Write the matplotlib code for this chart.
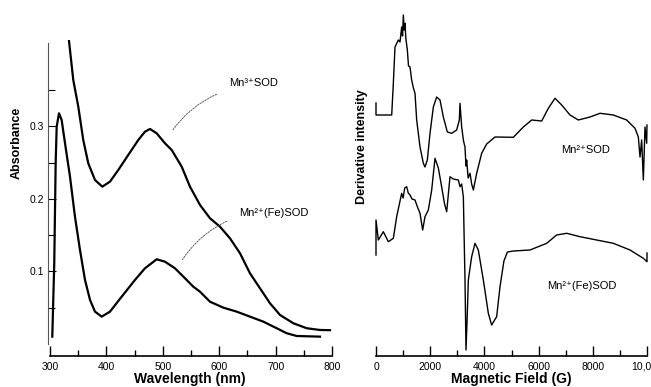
import matplotlib
matplotlib.use("Agg")
import matplotlib.pyplot as plt
from matplotlib.ticker import MultipleLocator, FixedLocator

plt.rcParams['font.family'] = ['Liberation Sans', 'DejaVu Sans']

# ---------------- data: UV-vis ----------------
wl_mn3 = [333.7, 341.3, 350.2, 359.0, 367.9, 379.8, 392.7, 406.4, 421.1, 438.8, 456.6, 468.4,
          477.3, 489.2, 503.9, 515.8, 533.5, 548.2, 566.0, 583.7, 601.4, 619.1, 636.9, 654.6,
          672.3, 690.1, 707.8, 731.4, 755.1, 778.7, 796.5]
abs_mn3 = [0.4183, 0.3641, 0.3273, 0.2814, 0.2492, 0.2262, 0.2170, 0.2239, 0.2400, 0.2607,
           0.2814, 0.2928, 0.2966, 0.2906, 0.2768, 0.2676, 0.2446, 0.2170, 0.1917, 0.1734,
           0.1618, 0.1458, 0.1251, 0.0975, 0.0768, 0.0561, 0.0400, 0.0286, 0.0217, 0.0193, 0.019]
wl_mn2fe = [304.1, 307.6, 310.1, 311.9, 316.0, 320.7, 326.6, 335.5, 344.3, 353.2, 362.1, 371.0,
            379.8, 391.7, 406.4, 427.1, 450.7, 468.4, 489.2, 503.9, 521.6, 539.4, 554.1, 566.0,
            583.7, 607.3, 631.0, 654.6, 678.2, 701.9, 719.7, 737.4, 778.7]
abs_mn2fe = [0.0101, 0.1117, 0.2497, 0.2997, 0.3182, 0.3090, 0.2772, 0.2308, 0.1756, 0.1297,
             0.0883, 0.0607, 0.0446, 0.0377, 0.0446, 0.0652, 0.0883, 0.1044, 0.1168, 0.1135,
             0.1044, 0.0906, 0.0790, 0.0721, 0.0583, 0.0501, 0.0446, 0.0377, 0.0308, 0.0217,
             0.0148, 0.0110, 0.0101]
wl_ticks = [300, 400, 500, 600, 700, 800]
abs_ticks = [0.1, 0.2, 0.3]

# ---------------- data: EPR ----------------
field_mn2 = [0, 0, 62, 579, 640, 701, 824, 886, 947, 980, 1009, 1040, 1070, 1100, 1156, 1200,
             1255, 1316, 1380, 1439, 1501, 1624, 1747, 1808, 1894, 1993, 2116, 2239, 2362, 2485,
             2632, 2792, 2977, 3075, 3100, 3161, 3230, 3284, 3320, 3346, 3400, 3469, 3530, 3592,
             3715, 3899, 4084, 4391, 5068, 5437, 5745, 6114, 6359, 6605, 6852, 7159, 7465, 7897,
             8266, 8757, 9250, 9557, 9680, 9742, 9803, 9865, 9926, 9988, 10000]
int_mn2 = [253, 241, 241, 241, 272.7, 309, 316, 314, 329, 320, 341, 326, 332.7, 318, 306, 290,
           289, 276, 268, 262.7, 236, 209, 192.7, 189, 196, 222.7, 249, 259, 256, 239,
           224, 222.7, 226, 236, 252.7, 229, 215, 209, 190, 196, 178, 182.7, 172, 166,
           182.7, 202.7, 212, 219, 218.7, 229, 236, 235, 247.7, 257.7, 251, 241, 236, 239,
           242.7, 241, 236, 227.7, 219, 199, 216, 176, 229, 212.7, 231]
field_mn2fe = [0, 0, 86, 271, 455, 640, 763, 947, 1000, 1060, 1132, 1190, 1255, 1330, 1439,
               1530, 1624, 1722, 1808, 1931, 2055, 2177, 2300, 2424, 2530, 2608, 2731, 2850,
               3038, 3100, 3161, 3223, 3284, 3321, 3370, 3407, 3530, 3653, 3776, 3961, 4145,
               4268, 4452, 4576, 4720, 4850, 5068, 5683, 6298, 6667, 7036, 7528, 8143, 8757,
               9373, 9865, 10000, 10000]
int_mn2fe = [101, 136, 116, 124.3, 114.3, 117.7, 139.3, 162.7, 158, 168, 169.3, 163, 161, 157,
             156, 149, 142.7, 126, 139.3, 146, 166, 197.7, 188, 169, 152, 144.3, 179.3, 177,
             176, 169.3, 172, 159.3, 76, 6, 43, 76, 99.3, 112.7, 106, 76, 42.7,
             31, 39.3, 69.3, 95, 104, 105, 106, 112.7, 121, 122.7, 119.3, 116, 112.7,
             106, 97.7, 94.3, 103]
field_ticks = [0, 2000, 4000, 6000, 8000, 10000]
field_tick_labels = ['0', '2000', '4000', '6000', '8000', '10,000']

W, H = 651, 387
fig = plt.figure(figsize=(W / 100, H / 100), dpi=100)

def frac_box(x0, x1, ytop, ybot):
    return [x0 / W, 1 - ybot / H, (x1 - x0) / W, (ybot - ytop) / H]

# ---------------- left panel ----------------
ax1 = fig.add_axes(frac_box(48, 332, 40, 356))
ax1.plot(wl_mn3, abs_mn3, color='black', lw=1.6, solid_joinstyle='round')
ax1.plot(wl_mn2fe, abs_mn2fe, color='black', lw=1.6, solid_joinstyle='round')
ax1.set_xlim(296.5, 800)
ax1.set_ylim(-0.0166, 0.4193)
for s in ['top', 'right']:
    ax1.spines[s].set_visible(False)
ax1.spines['left'].set_bounds(0.0, 0.415)
ax1.spines['left'].set_linewidth(0.8)
ax1.spines['left'].set_color('#555555')
ax1.spines['bottom'].set_bounds(300, 800)
ax1.spines['bottom'].set_linewidth(1.2)
ax1.xaxis.set_major_locator(FixedLocator(wl_ticks))
ax1.xaxis.set_minor_locator(MultipleLocator(50))
ax1.yaxis.set_major_locator(FixedLocator(abs_ticks))
ax1.yaxis.set_minor_locator(FixedLocator([0.05, 0.15, 0.25, 0.35]))
ax1.tick_params(axis='both', which='both', direction='in', labelsize=7.5)
ax1.tick_params(axis='x', which='major', length=7, width=1.0, pad=4)
ax1.tick_params(axis='x', which='minor', length=4, width=1.0)
ax1.tick_params(axis='y', which='major', length=6, width=0.8, pad=3)
ax1.tick_params(axis='y', which='minor', length=5, width=0.8)
ax1.set_xticklabels([str(t) for t in wl_ticks])
ax1.set_yticklabels([f"{t:.1f}" for t in abs_ticks])
ax1.set_xlabel('Wavelength (nm)', fontsize=10, fontweight='bold', labelpad=0)

ax1.text(618, 0.36, 'Mn³⁺SOD', fontsize=8, va='center', ha='left')
ax1.text(636, 0.181, 'Mn²⁺(Fe)SOD', fontsize=8, va='center', ha='left')
ax1.annotate('', xy=(514, 0.291), xytext=(600, 0.346),
             arrowprops=dict(arrowstyle='-', lw=0.6, ls=(0, (2, 1.5)), color='#444444',
                             connectionstyle='arc3,rad=0.15'))
ax1.annotate('', xy=(532, 0.113), xytext=(618, 0.171),
             arrowprops=dict(arrowstyle='-', lw=0.6, ls=(0, (2, 1.5)), color='#444444',
                             connectionstyle='arc3,rad=0.15'))

fig.text(17 / W, 1 - 143 / H, 'Absorbance', rotation=90, fontsize=9, fontweight='bold',
         ha='center', va='center')

# ---------------- right panel ----------------
ax2 = fig.add_axes(frac_box(376, 647, 10, 356))
ax2.plot(field_mn2, int_mn2, color='black', lw=1.0, clip_on=False)
ax2.plot(field_mn2fe, int_mn2fe, color='black', lw=1.0, clip_on=False)
ax2.set_xlim(0, 10000)
ax2.set_ylim(0, 346)
for s in ['top', 'right', 'left']:
    ax2.spines[s].set_visible(False)
ax2.spines['bottom'].set_linewidth(1.2)
ax2.set_yticks([])
ax2.xaxis.set_major_locator(FixedLocator(field_ticks))
ax2.xaxis.set_minor_locator(MultipleLocator(1000))
ax2.tick_params(axis='x', which='major', direction='in', length=7, width=1.0, pad=4, labelsize=7.5)
ax2.tick_params(axis='x', which='minor', direction='in', length=4, width=1.0)
ax2.set_xticklabels(field_tick_labels)
ax2.set_xlabel('Magnetic Field (G)', fontsize=10, fontweight='bold', labelpad=0)
ax2.text(7750, 206, 'Mn²⁺SOD', fontsize=8, ha='center', va='center')
ax2.text(7600, 70, 'Mn²⁺(Fe)SOD', fontsize=8, ha='center', va='center')

fig.text(362 / W, 1 - 147 / H, 'Derivative intensity', rotation=90, fontsize=9,
         fontweight='bold', ha='center', va='center')

fig.savefig('out.png', dpi=100)
